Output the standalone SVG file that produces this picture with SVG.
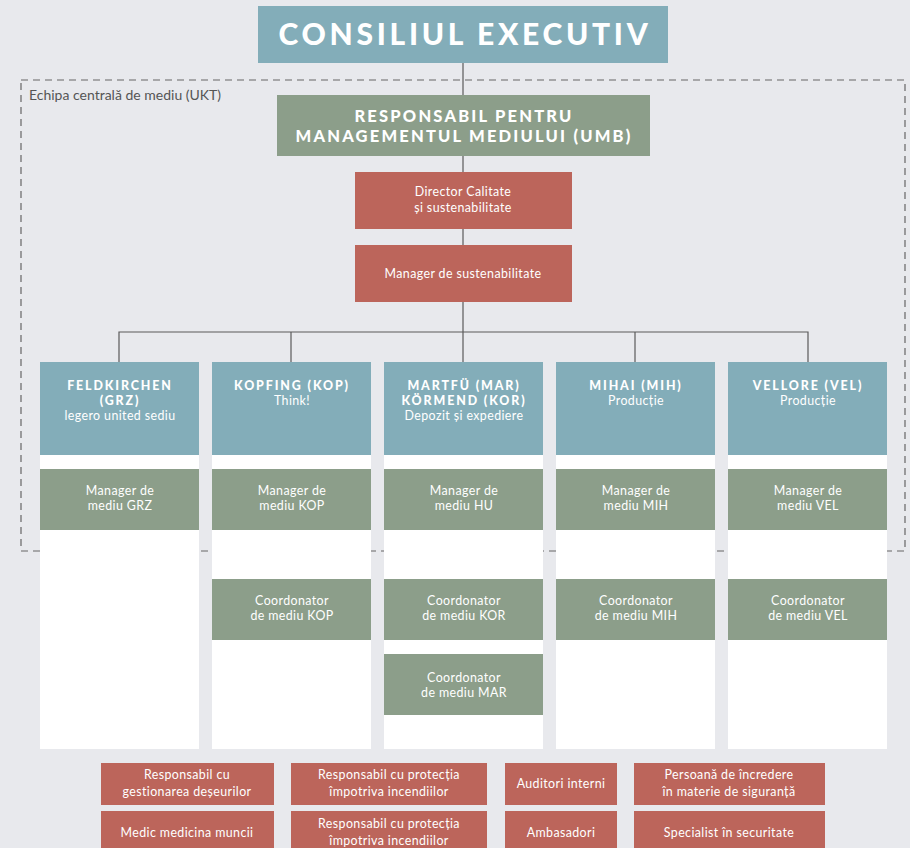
<svg xmlns="http://www.w3.org/2000/svg" width="910" height="848" viewBox="0 0 910 848">
<style>
.bg{fill:#e8e9ed}
.teal{fill:#83adb9}
.green{fill:#8c9e8a}
.red{fill:#bc655b}
.white{fill:#ffffff}
.conn{stroke:#5a5a5a;stroke-width:1.2;fill:none}
.dash{stroke:#666666;stroke-width:1.2;fill:none;stroke-dasharray:7 5}
text{font-family:"Lato","Open Sans","Liberation Sans",sans-serif;fill:#ffffff;text-anchor:middle}
.t{font-size:12.4px;letter-spacing:0.4px}
.h{font-size:12.4px;font-weight:900;letter-spacing:1.9px}
.big{font-size:30px;font-weight:900;letter-spacing:3.7px}
.umb{font-size:16.5px;font-weight:900;letter-spacing:2.2px}
.lbl{font-size:14px;fill:#555;text-anchor:start}
</style>
<rect class="bg" x="0" y="0" width="910" height="848"/>
<g id="ukt">
<rect class="dash" x="21" y="80" width="884" height="471"/>
<text class="lbl" x="29" y="100">Echipa centrală de mediu (UKT)</text>
</g>
<g id="connectors">
<line class="conn" x1="463" y1="63" x2="463" y2="95"/>
<line class="conn" x1="463" y1="156" x2="463" y2="172"/>
<line class="conn" x1="463" y1="229" x2="463" y2="245"/>
<line class="conn" x1="463" y1="302" x2="463" y2="362"/>
<polyline class="conn" points="119,362 119,332 808,332 808,362"/>
<line class="conn" x1="291" y1="332" x2="291" y2="362"/>
<line class="conn" x1="635" y1="332" x2="635" y2="362"/>
</g>
<g id="consiliul">
<rect class="teal" x="258" y="6" width="410" height="57"/>
<text class="big" x="465" y="45">CONSILIUL EXECUTIV</text>
</g>
<g id="umb">
<rect class="green" x="277" y="95" width="373" height="61"/>
<text class="umb" x="464" y="122">RESPONSABIL PENTRU</text>
<text class="umb" x="464" y="142">MANAGEMENTUL MEDIULUI (UMB)</text>
</g>
<g id="director">
<rect class="red" x="355" y="172" width="217" height="57"/>
<text class="t" x="463" y="196">Director Calitate</text>
<text class="t" x="463" y="212">și sustenabilitate</text>
</g>
<g id="mgr-sust">
<rect class="red" x="355" y="245" width="217" height="57"/>
<text class="t" x="463" y="278">Manager de sustenabilitate</text>
</g>
<g id="col-grz">
<rect class="white" x="40" y="362" width="159" height="387"/>
<rect class="teal" x="40" y="362" width="159" height="93"/>
<text class="h" x="120" y="390">FELDKIRCHEN</text>
<text class="h" x="120" y="405">(GRZ)</text>
<text class="t" x="120" y="420">legero united sediu</text>
<rect class="green" x="40" y="469" width="159" height="61"/>
<text class="t" x="120" y="495">Manager de</text>
<text class="t" x="120" y="510">mediu GRZ</text>
</g>
<g id="col-kop">
<rect class="white" x="212" y="362" width="159" height="387"/>
<rect class="teal" x="212" y="362" width="159" height="93"/>
<text class="h" x="292" y="390">KOPFING (KOP)</text>
<text class="t" x="292" y="405">Think!</text>
<rect class="green" x="212" y="469" width="159" height="61"/>
<text class="t" x="292" y="495">Manager de</text>
<text class="t" x="292" y="510">mediu KOP</text>
<rect class="green" x="212" y="579" width="159" height="61"/>
<text class="t" x="292" y="605">Coordonator</text>
<text class="t" x="292" y="620">de mediu KOP</text>
</g>
<g id="col-mar">
<rect class="white" x="384" y="362" width="159" height="387"/>
<rect class="teal" x="384" y="362" width="159" height="93"/>
<text class="h" x="464" y="390">MARTFÜ (MAR)</text>
<text class="h" x="464" y="405">KÖRMEND (KOR)</text>
<text class="t" x="464" y="420">Depozit și expediere</text>
<rect class="green" x="384" y="469" width="159" height="61"/>
<text class="t" x="464" y="495">Manager de</text>
<text class="t" x="464" y="510">mediu HU</text>
<rect class="green" x="384" y="579" width="159" height="61"/>
<text class="t" x="464" y="605">Coordonator</text>
<text class="t" x="464" y="620">de mediu KOR</text>
<rect class="green" x="384" y="654" width="159" height="61"/>
<text class="t" x="464" y="682">Coordonator</text>
<text class="t" x="464" y="697">de mediu MAR</text>
</g>
<g id="col-mih">
<rect class="white" x="556" y="362" width="159" height="387"/>
<rect class="teal" x="556" y="362" width="159" height="93"/>
<text class="h" x="636" y="390">MIHAI (MIH)</text>
<text class="t" x="636" y="405">Producție</text>
<rect class="green" x="556" y="469" width="159" height="61"/>
<text class="t" x="636" y="495">Manager de</text>
<text class="t" x="636" y="510">mediu MIH</text>
<rect class="green" x="556" y="579" width="159" height="61"/>
<text class="t" x="636" y="605">Coordonator</text>
<text class="t" x="636" y="620">de mediu MIH</text>
</g>
<g id="col-vel">
<rect class="white" x="728" y="362" width="159" height="387"/>
<rect class="teal" x="728" y="362" width="159" height="93"/>
<text class="h" x="808" y="390">VELLORE (VEL)</text>
<text class="t" x="808" y="405">Producție</text>
<rect class="green" x="728" y="469" width="159" height="61"/>
<text class="t" x="808" y="495">Manager de</text>
<text class="t" x="808" y="510">mediu VEL</text>
<rect class="green" x="728" y="579" width="159" height="61"/>
<text class="t" x="808" y="605">Coordonator</text>
<text class="t" x="808" y="620">de mediu VEL</text>
</g>
<g id="deseuri">
<rect class="red" x="101" y="763" width="173" height="42"/>
<text class="t" x="187" y="779">Responsabil cu</text>
<text class="t" x="187" y="796">gestionarea deșeurilor</text>
</g>
<g id="incendii1">
<rect class="red" x="291" y="763" width="196" height="42"/>
<text class="t" x="389" y="779">Responsabil cu protecția</text>
<text class="t" x="389" y="796">împotriva incendiilor</text>
</g>
<g id="auditori">
<rect class="red" x="505" y="763" width="112" height="42"/>
<text class="t" x="561" y="788">Auditori interni</text>
</g>
<g id="persoana">
<rect class="red" x="634" y="763" width="191" height="42"/>
<text class="t" x="729" y="779">Persoană de încredere</text>
<text class="t" x="729" y="796">în materie de siguranță</text>
</g>
<g id="medic">
<rect class="red" x="101" y="811" width="173" height="42"/>
<text class="t" x="187" y="837">Medic medicina muncii</text>
</g>
<g id="incendii2">
<rect class="red" x="291" y="811" width="196" height="42"/>
<text class="t" x="389" y="828">Responsabil cu protecția</text>
<text class="t" x="389" y="845">împotriva incendiilor</text>
</g>
<g id="ambasadori">
<rect class="red" x="505" y="811" width="112" height="42"/>
<text class="t" x="561" y="837">Ambasadori</text>
</g>
<g id="specialist">
<rect class="red" x="634" y="811" width="191" height="42"/>
<text class="t" x="729" y="837">Specialist în securitate</text>
</g>
</svg>
